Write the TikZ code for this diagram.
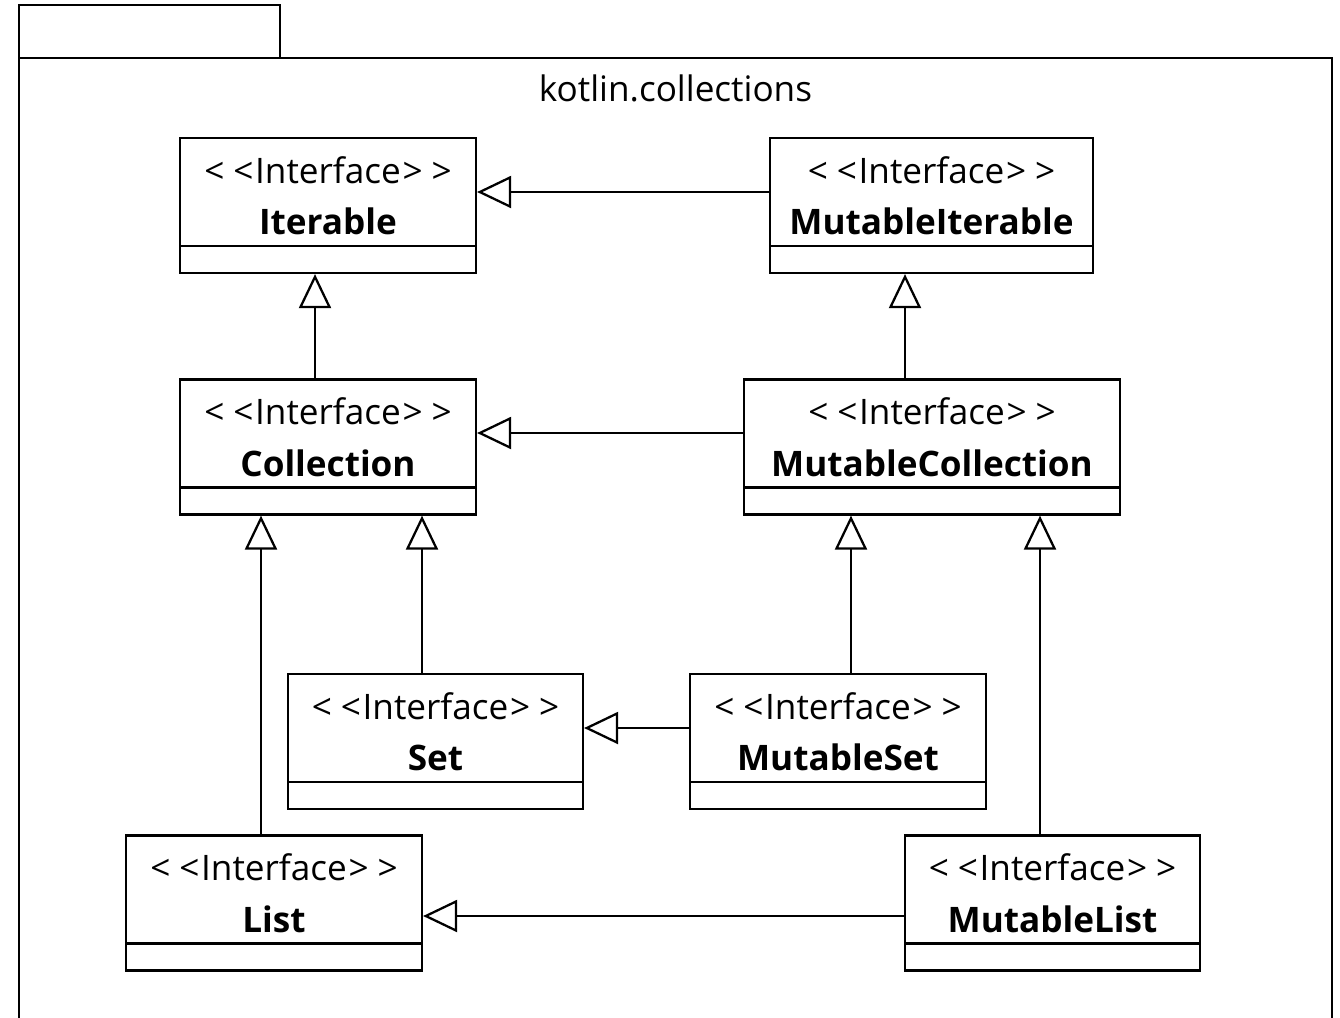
\documentclass[tikz,border=0pt]{standalone}
\usepackage{fontspec}
\setmainfont{Open Sans}
\usetikzlibrary{arrows.meta}

\newcommand{\ifacetext}[1]{<\kern.25em<\kern.05em Interface\kern.05em>\kern.25em>\\\textbf{#1}\rule[-0.4cm]{0pt}{0pt}}

\begin{document}
\begin{tikzpicture}[
x = 0.02cm, y = -0.02cm, % one unit per pixel of the layout
> = {Triangle[open, length=0.68cm, width=0.64cm]}, % generalization head
line width = 1.3pt,
font = \fontsize{20}{29.5}\selectfont
]

\tikzstyle{iface}=[
draw = black,
align = center,
inner sep = 0pt,
minimum height = 2.7cm,
path picture = {\draw ([yshift=0.54cm]path picture bounding box.south west) -- ([yshift=0.54cm]path picture bounding box.south east);}
]

\useasboundingbox (0,0) rectangle (1340,1018);

% package frame
\draw (19,58) -- (19,5) -- (280,5) -- (280,58);
\draw (19,1018) -- (19,58) -- (1332,58) -- (1332,1018);
\node (pkg) at (675.5,88) {kotlin.collections};

\node[iface, minimum width=5.92cm] (Iterable) at (328,205.5) {\ifacetext{Iterable}};
\node[iface, minimum width=6.46cm] (MutIterable) at (931.5,205.5) {\ifacetext{MutableIterable}};
\node[iface, minimum width=5.92cm] (Collection) at (328,447) {\ifacetext{Collection}};
\node[iface, minimum width=7.52cm] (MutCollection) at (932,447) {\ifacetext{MutableCollection}};
\node[iface, minimum width=5.90cm] (Set) at (435.5,741.5) {\ifacetext{Set}};
\node[iface, minimum width=5.92cm] (MutSet) at (838,741.5) {\ifacetext{MutableSet}};
\node[iface, minimum width=5.92cm] (List) at (274,903) {\ifacetext{List}};
\node[iface, minimum width=5.90cm] (MutList) at (1052.5,903) {\ifacetext{MutableList}};

\draw[->] ([yshift=0.27cm]MutIterable.west) -- ([yshift=0.27cm]MutIterable.west -| Iterable.east);
\draw[->] ([xshift=-0.26cm]Collection.north) -- ([xshift=-0.26cm]Collection.north |- Iterable.south);
\draw[->] ([xshift=-0.54cm]MutCollection.north) -- ([xshift=-0.54cm]MutCollection.north |- MutIterable.south);
\draw[->] ([yshift=0.28cm]MutCollection.west) -- ([yshift=0.28cm]MutCollection.west -| Collection.east);

\draw[->] ([xshift=-0.27cm]Set.north) -- ([xshift=-0.27cm]Set.north |- Collection.south);
\draw[->] ([xshift=-0.26cm]List.north) -- ([xshift=-0.26cm]List.north |- Collection.south);
\draw[->] ([xshift=0.26cm]MutSet.north) -- ([xshift=0.26cm]MutSet.north |- MutCollection.south);
\draw[->] ([xshift=-0.25cm]MutList.north) -- ([xshift=-0.25cm]MutList.north |- MutCollection.south);

\draw[->] ([yshift=0.27cm]MutSet.west) -- ([yshift=0.27cm]MutSet.west -| Set.east);
\draw[->] ([yshift=-0.26cm]MutList.west) -- ([yshift=-0.26cm]MutList.west -| List.east);

\end{tikzpicture}
\end{document}
